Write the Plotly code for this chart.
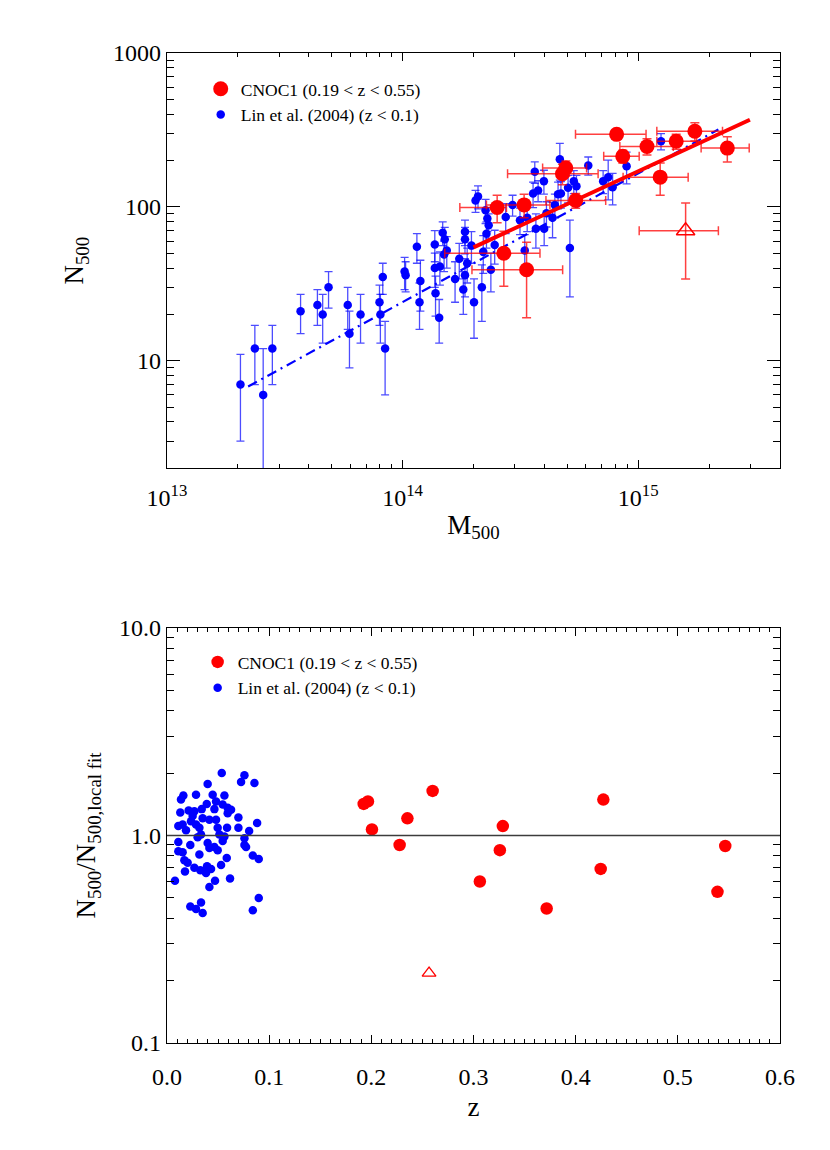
import plotly.graph_objects as go

# ---- top panel: N500 vs M500 ----
# Lin et al. (2004) local clusters
lin_m500 = [2.05e13, 2.36e13, 2.56e13, 2.80e13, 3.69e13, 4.35e13, 4.58e13, 4.85e13, 5.85e13, 5.95e13,
            6.63e13, 7.98e13, 8.05e13, 8.24e13, 8.43e13, 1.02e14, 1.03e14, 1.15e14, 1.19e14, 1.18e14,
            1.37e14, 1.37e14, 1.38e14, 1.43e14, 1.48e14, 1.51e14, 1.54e14, 1.50e14, 1.44e14, 1.67e14,
            1.74e14, 1.81e14, 1.84e14, 1.84e14, 1.84e14, 1.88e14, 1.96e14, 2.01e14, 2.04e14, 2.09e14,
            2.17e14, 2.20e14, 2.25e14, 2.29e14, 2.32e14, 2.27e14, 2.37e14, 2.46e14,
            2.74e14, 2.93e14, 3.15e14, 3.30e14, 3.38e14, 3.58e14, 3.64e14, 3.68e14, 3.76e14, 3.98e14,
            3.99e14, 4.08e14, 4.33e14, 4.43e14, 4.57e14, 4.70e14, 4.65e14, 5.04e14, 5.13e14, 5.33e14,
            5.47e14, 6.14e14, 7.10e14, 7.46e14, 7.79e14, 8.93e14, 1.25e15]
lin_n500 = [7, 12, 6, 12, 21, 23, 20, 30, 23, 15,
            20, 24, 20, 35, 12, 38, 36, 55, 33, 24,
            57, 40, 27.5, 19, 68, 61.5, 52, 49, 41, 34,
            46, 29, 36, 61.5, 69, 43, 56, 24, 110, 117,
            30, 51, 95, 84, 76, 67, 39, 56.5,
            86, 103, 82, 52, 85, 122, 169, 72, 128, 147,
            72, 91, 85, 103, 121, 122, 204, 133, 54, 147,
            136, 186, 147, 156, 134, 184, 267]
lin_n500_err = [4, 5, 6, 5, 6, 6, 7, 8, 7, 6,
                7, 7, 7, 8, 6, 9, 8, 12, 12, 8,
                13, 10, 8, 6, 12, 12, 12, 11, 10, 10,
                12, 9, 10, 12, 13, 11, 13, 10, 18, 20,
                12, 14, 17, 15, 14, 13, 11, 14,
                19, 16, 16, 14, 16, 23, 27, 18, 20, 26,
                16, 17, 22, 18, 24, 24, 55, 27, 28, 25,
                24, 25, 25, 45, 31, 43, 32]

# CNOC1 clusters
cnoc_m500 = [8.1e14, 1.74e15, 1.45e15, 1.09e15, 2.39e15, 8.6e14, 1.24e15,
             4.93e14, 4.77e14, 5.43e14, 2.52e14, 3.28e14, 2.69e14, 3.36e14]
cnoc_m500_lo = [5.42e14, 1.20e15, 1.20e15, 8.36e14, 1.85e15, 7.14e14, 8.63e14,
                3.93e14, 2.79e14, 4.06e14, 1.75e14, 2.27e14, 1.51e14, 1.97e14]
cnoc_m500_hi = [1.08e15, 2.28e15, 1.77e15, 1.41e15, 2.96e15, 1.01e15, 1.63e15,
                6.04e14, 6.76e14, 7.28e14, 2.76e14, 4.22e14, 3.83e14, 4.78e14]
cnoc_n500 = [296, 310, 267, 247, 241, 213, 156, 179, 164, 110, 99, 103, 50, 39]
cnoc_n500_err = [20, 42, 30, 30, 45, 20, 37, 20, 25, 12, 20, 18, 19.5, 20]

# the odd one (open triangle)
tri_m500, tri_m500_lo, tri_m500_hi = 1.59e15, 1.01e15, 2.19e15
tri_n500, tri_n500_err = 70, 36

# fit lines (end points)
lin_fit_m = [2.21e13, 2.19e15]
lin_fit_n = [6.8, 318]
cnoc_fit_m = [2.0e14, 2.98e15]
cnoc_fit_n = [54.6, 368]

# ---- bottom panel: N500 / N500,local fit vs z ----
lin_z = [0.0536, 0.0758, 0.0725, 0.0856, 0.0398, 0.0160, 0.0137, 0.0284, 0.0447, 0.0562,
         0.0480, 0.0389, 0.0340, 0.0464, 0.0545, 0.0594, 0.0627, 0.0594, 0.0130, 0.0212,
         0.0268, 0.0251, 0.0349, 0.0415, 0.0480, 0.0699, 0.0882, 0.0111, 0.0153, 0.0186,
         0.0235, 0.0284, 0.0317, 0.0496, 0.0588, 0.0699, 0.0804, 0.0300, 0.0333, 0.0513,
         0.0562, 0.0545, 0.0758, 0.0111, 0.0228, 0.0398, 0.0415, 0.0464, 0.0496, 0.0758,
         0.0774, 0.0111, 0.0153, 0.0840, 0.0898, 0.0585, 0.0317, 0.0170, 0.0202, 0.0268,
         0.0326, 0.0392, 0.0431, 0.0382, 0.0529, 0.0176, 0.0078, 0.0617, 0.0470, 0.0415,
         0.0898, 0.0228, 0.0284, 0.0333, 0.0349, 0.0840]
lin_ratio = [2.00, 1.95, 1.81, 1.79, 1.77, 1.56, 1.49, 1.57, 1.57, 1.56,
             1.46, 1.42, 1.34, 1.34, 1.41, 1.36, 1.33, 1.28, 1.29, 1.32,
             1.31, 1.24, 1.21, 1.19, 1.19, 1.22, 1.15, 1.11, 1.13, 1.06,
             1.17, 1.13, 1.09, 1.09, 1.09, 1.09, 1.05, 0.98, 1.01, 1.01,
             0.99, 0.94, 0.97, 0.93, 0.90, 0.92, 0.87, 0.88, 0.85, 0.90,
             0.88, 0.84, 0.83, 0.80, 0.77, 0.78, 0.81, 0.76, 0.74, 0.70,
             0.68, 0.71, 0.69, 0.66, 0.72, 0.67, 0.605, 0.62, 0.605, 0.565,
             0.50, 0.455, 0.442, 0.476, 0.423, 0.436]

cnoc_z = [0.1925, 0.1967, 0.2006, 0.2277, 0.2353, 0.260, 0.3062, 0.3258, 0.3287,
          0.3716, 0.4245, 0.4271, 0.5388, 0.5464]
cnoc_ratio = [1.42, 1.46, 1.07, 0.90, 1.21, 1.64, 0.60, 0.85, 1.11,
              0.445, 0.69, 1.49, 0.535, 0.89]
tri_z, tri_ratio = 0.2565, 0.217

FONT = 'Liberation Serif'
lin_bar = 'rgba(0,0,255,0.7)'
cnoc_bar = 'rgba(255,0,0,0.75)'

fig = go.Figure()

# top panel traces
fig.add_trace(go.Scatter(x=lin_m500, y=lin_n500, mode='markers', name='Lin et al. (2004) (z < 0.1)',
                         marker=dict(color='blue', size=8.5), legendrank=2,
                         error_y=dict(type='data', array=lin_n500_err, color=lin_bar, thickness=1.3, width=4),
                         xaxis='x', yaxis='y', legend='legend'))
fig.add_trace(go.Scatter(x=lin_fit_m, y=lin_fit_n, mode='lines', showlegend=False,
                         line=dict(color='blue', width=2.2, dash='10px,5px,2px,5px'),
                         xaxis='x', yaxis='y'))
fig.add_trace(go.Scatter(x=cnoc_fit_m, y=cnoc_fit_n, mode='lines', showlegend=False,
                         line=dict(color='red', width=4), xaxis='x', yaxis='y'))
fig.add_trace(go.Scatter(x=cnoc_m500, y=cnoc_n500, mode='markers', name='CNOC1 (0.19 < z < 0.55)',
                         marker=dict(color='red', size=15), legendrank=1,
                         error_x=dict(type='data', symmetric=False,
                                      array=[h - m for h, m in zip(cnoc_m500_hi, cnoc_m500)],
                                      arrayminus=[m - l for m, l in zip(cnoc_m500, cnoc_m500_lo)],
                                      color=cnoc_bar, thickness=1.5, width=4.5),
                         error_y=dict(type='data', array=cnoc_n500_err, color=cnoc_bar, thickness=1.5, width=4.5),
                         xaxis='x', yaxis='y', legend='legend'))
fig.add_trace(go.Scatter(x=[tri_m500], y=[tri_n500], mode='markers', showlegend=False,
                         marker=dict(symbol='triangle-up-open', color='red', size=16, line=dict(width=1.5)),
                         error_x=dict(type='data', symmetric=False, array=[tri_m500_hi - tri_m500],
                                      arrayminus=[tri_m500 - tri_m500_lo], color=cnoc_bar, thickness=1.5, width=4.5),
                         error_y=dict(type='data', array=[tri_n500_err], color=cnoc_bar, thickness=1.5, width=4.5),
                         xaxis='x', yaxis='y'))

# bottom panel traces
fig.add_trace(go.Scatter(x=lin_z, y=lin_ratio, mode='markers', name='Lin et al. (2004) (z < 0.1)',
                         marker=dict(color='blue', size=8.5), legendrank=2,
                         xaxis='x2', yaxis='y2', legend='legend2'))
fig.add_trace(go.Scatter(x=cnoc_z, y=cnoc_ratio, mode='markers', name='CNOC1 (0.19 < z < 0.55)',
                         marker=dict(color='red', size=12.5), legendrank=1,
                         xaxis='x2', yaxis='y2', legend='legend2'))
fig.add_trace(go.Scatter(x=[tri_z], y=[tri_ratio], mode='markers', showlegend=False,
                         marker=dict(symbol='triangle-up-open', color='red', size=12, line=dict(width=1.3)),
                         xaxis='x2', yaxis='y2'))

# unity line in the ratio panel
fig.add_shape(type='line', xref='x2 domain', yref='y2', x0=0, x1=1, y0=1, y1=1,
              line=dict(color='rgb(60,60,60)', width=1.5))

axis_common = dict(showline=True, linecolor='black', linewidth=1.3, mirror='allticks', automargin=False,
                   ticks='inside', tickcolor='black', tickwidth=1.2, showgrid=False, zeroline=False,
                   tickfont=dict(family=FONT, size=24, color='black'))

minor_m = [k * 10 ** e for e in (13, 14, 15) for k in range(2, 10)]
minor_n = [k * 10 ** e for e in (0, 1, 2) for k in range(2, 10)]
minor_r = [k * 10 ** e for e in (-1, 0) for k in range(2, 10)]

# the page body adds an 8px margin, so the figure is a bit smaller than the window
fig.update_layout(
    width=814, height=1134,
    margin=dict(l=159, r=42, t=45, b=99),
    plot_bgcolor='white', paper_bgcolor='white',
    font=dict(family=FONT, color='black'),
    xaxis=dict(axis_common, type='log', range=[13, 15.602], domain=[0, 1], anchor='y',
               tickvals=[1e13, 1e14, 1e15],
               ticktext=['10<sup>13</sup>', '10<sup>14</sup>', '10<sup>15</sup>'],
               ticklen=8, ticklabelstandoff=8,
               minor=dict(tickvals=minor_m, ticks='inside', ticklen=4, tickcolor='black', tickwidth=1),
               title=dict(text='M<sub>500</sub>', font=dict(family=FONT, size=27), standoff=4)),
    yaxis=dict(axis_common, type='log', range=[0.301, 3], domain=[0.5805, 1], anchor='x',
               tickvals=[10, 100, 1000], ticktext=['10', '100', '1000'],
               ticklen=13,
               minor=dict(tickvals=minor_n, ticks='inside', ticklen=7, tickcolor='black', tickwidth=1),
               title=dict(text='N<sub>500</sub>', font=dict(family=FONT, size=27), standoff=21)),
    xaxis2=dict(axis_common, range=[0, 0.6], domain=[0, 1], anchor='y2',
                tickvals=[0, 0.1, 0.2, 0.3, 0.4, 0.5, 0.6],
                ticktext=['0.0', '0.1', '0.2', '0.3', '0.4', '0.5', '0.6'],
                ticklen=8, ticklabelstandoff=12,
                minor=dict(dtick=0.01, ticks='inside', ticklen=4, tickcolor='black', tickwidth=1),
                title=dict(text='z', font=dict(family=FONT, size=27), standoff=8)),
    yaxis2=dict(axis_common, type='log', range=[-1, 1], domain=[0, 0.4192], anchor='x2',
                tickvals=[0.1, 1, 10], ticktext=['0.1', '1.0', '10.0'],
                ticklen=13,
                minor=dict(tickvals=minor_r, ticks='inside', ticklen=7, tickcolor='black', tickwidth=1),
                title=dict(text='N<sub>500</sub>/N<sub>500,local fit</sub>',
                           font=dict(family=FONT, size=27), standoff=15)),
    legend=dict(x=0.055, y=0.982, xanchor='left', yanchor='top', bgcolor='rgba(0,0,0,0)',
                font=dict(family=FONT, size=17.5), itemsizing='trace', tracegroupgap=0),
    legend2=dict(x=0.05, y=0.403, xanchor='left', yanchor='top', bgcolor='rgba(0,0,0,0)',
                 font=dict(family=FONT, size=17.5), itemsizing='trace', tracegroupgap=0),
)

fig.write_html('out.html')
